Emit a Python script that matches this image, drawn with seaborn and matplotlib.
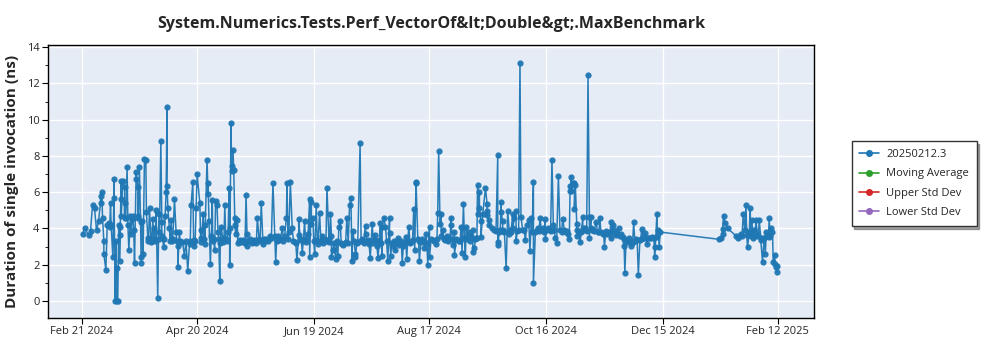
import numpy as np
import pandas as pd
import matplotlib
matplotlib.use("Agg")
import matplotlib.pyplot as plt
from matplotlib.lines import Line2D
import seaborn as sns

# ---------------- data ----------------
start_date = "2024-02-21"

# runs with notable values (spikes/dips), day offsets from start_date
day_offset = [
    0.34, 1.37, 3.42, 4.44, 5.46, 6.49, 7.51, 8.54, 9.56, 9.56, 10.25, 10.59, 11.27, 11.27, 12.3,
    13.0, 13.7, 14.3, 14.7, 15.0, 15.9, 16.4, 16.4, 17.1, 17.4, 17.8, 17.8, 18.4, 19.3, 19.3, 19.3,
    20.2, 20.2, 20.2, 21.0, 21.9, 21.9, 21.9, 23.2, 23.6, 24.1, 24.9, 25.3, 26.1, 27.0, 27.8, 27.8,
    28.7, 28.7, 29.5, 30.1, 30.4, 30.4, 31.4, 32.1, 32.8, 33.1, 33.8, 33.8, 34.7, 35.5, 36.4, 37.2,
    38.1, 38.9, 39.8, 39.8, 40.5, 41.0, 41.0, 42.0, 42.7, 43.2, 43.7, 43.7, 44.1, 44.9, 45.8, 46.6,
    47.5, 48.3, 49.2, 49.2, 50.0, 50.9, 52.6, 54.3, 55.2, 56.0, 56.9, 57.7, 58.6, 59.1,
    60.5, 61.3, 61.3, 62.2, 63.0, 63.0, 64.2, 64.7, 64.7, 65.2, 65.9, 66.9, 67.6, 68.1, 68.6, 69.3,
    69.8, 70.7, 71.5, 72.4, 73.3, 73.8, 75.0, 75.5, 75.8, 75.8, 76.5, 76.8, 76.8, 77.5, 77.9, 78.4,
    78.4, 78.9, 79.6, 80.6, 81.6, 82.7, 83.7, 84.2, 84.7, 84.7, 86.1, 86.9, 87.8, 89.0, 90.0, 90.9,
    92.0, 92.9, 93.7, 94.6, 96.3, 97.2, 98.0, 98.9, 99.4, 100.6, 101.8, 102.8, 104.0, 104.9, 105.2,
    106.2, 106.9, 107.9, 109.1, 110.3, 111.2, 111.2, 112.0, 113.0, 114.2, 115.1, 116.0, 116.8, 116.8,
    117.7, 117.7, 118.5, 119.4, 120.2, 121.1, 121.9,
    123.3, 124.3, 125.7, 126.7, 127.5, 128.0, 128.0, 128.7, 130.1, 131.3, 131.8, 132.5, 133.5, 134.7,
    135.9, 137.3, 138.0, 138.5, 139.0, 140.3, 140.3, 141.5, 142.7, 143.8, 145.5, 145.5, 146.7, 147.9,
    148.9, 150.1, 151.3, 151.9, 153.0, 154.0, 154.0, 154.9, 155.7, 156.9, 157.8, 157.8, 158.4, 159.5,
    160.8, 162.0, 163.2, 164.3, 164.9, 166.0, 166.6, 167.7, 168.9, 170.2, 170.7, 171.4, 171.4, 172.3,
    173.1, 174.5, 175.7, 176.5, 177.4, 178.3, 178.3, 180.0, 181.7, 182.5, 183.0, 183.7,
    184.3, 184.3, 185.1, 186.0, 187.2, 188.2, 189.4, 189.4, 190.2, 191.1, 191.1, 192.8, 193.6, 194.5,
    195.0, 195.7, 196.7, 197.1, 198.4, 199.6, 200.5, 200.5, 201.3, 202.2, 203.0, 203.0, 203.9, 203.9,
    204.7, 204.7, 205.6, 207.0, 207.8, 207.8, 207.8, 208.7, 208.7, 211.6, 212.4, 213.3, 213.3, 213.3,
    214.1, 215.0, 215.0, 215.8, 215.8, 216.7, 217.6, 218.4, 219.3, 220.1, 221.0, 221.0, 221.8, 222.7,
    222.7, 224.0, 224.7, 225.2, 226.1, 227.5, 228.1, 229.2, 229.8, 230.5, 231.6, 231.6, 232.6, 233.8,
    235.0, 236.3, 237.7, 237.7, 238.9, 239.8, 241.1, 241.8, 242.8, 243.5, 244.4, 245.2,
    246.6, 247.5, 248.3, 249.2, 250.0, 250.4, 250.4, 251.0, 251.0, 251.7, 252.6, 252.6, 253.1, 253.8,
    253.8, 254.8, 255.5, 256.9, 256.9, 258.2, 259.6, 260.3, 260.3, 261.1, 261.1, 262.0, 263.7, 264.5,
    265.7, 266.2, 267.1, 268.0, 268.8, 270.2, 271.4, 271.4, 272.2, 273.1, 273.9, 275.3, 276.5, 277.3,
    277.9, 278.5, 279.1, 279.9, 280.8, 281.6, 282.5, 283.0, 284.2, 285.4, 286.2, 287.1, 287.9, 289.0,
    289.8, 291.0, 292.4, 293.2, 293.7, 293.7, 294.4, 294.9, 295.6, 296.1, 296.6,
    326.9, 327.7, 328.6, 328.6, 329.1, 330.0, 331.2, 335.4, 336.3, 337.1, 338.0, 339.2, 340.0, 340.6,
    341.4, 342.3, 342.8, 343.6, 344.3, 344.8, 345.7, 346.5, 347.4, 348.2, 348.2, 349.1, 349.9, 350.5,
    351.1, 352.2, 352.5, 353.4, 354.2, 354.6, 355.4, 355.4, 355.9, 356.3, 356.4,
]

duration_ns = [
    3.7, 4.0, 3.65, 3.85, 5.3, 5.1, 3.9, 4.4, 5.4, 5.8, 6.0, 4.6, 3.3, 2.6, 1.7,
    4.2, 4.3, 4.1, 5.4, 4.2, 2.4, 5.7, 6.7, 0.0, 3.3, 0.0, 1.8, 0.0, 3.65, 4.1, 2.2,
    6.6, 5.6, 4.7, 6.6, 6.3, 4.6, 5.4, 7.4, 4.2, 2.8, 4.7, 3.7, 4.7, 2.1, 6.75, 7.1,
    6.3, 4.7, 7.4, 4.35, 2.4, 2.1, 2.6, 7.85, 7.8, 4.9, 3.5, 3.3, 5.1, 3.25, 4.5, 4.0,
    5.0, 0.15, 4.8, 3.8, 8.8, 4.35, 3.6, 3.0, 4.7, 6.0, 10.7, 6.35, 5.1, 4.0, 4.45, 3.4,
    5.6, 3.8, 3.05, 1.85, 3.8, 3.25, 2.5, 1.65, 3.15, 5.3, 6.55, 3.05, 5.1, 7.0,
    5.4, 3.9, 3.25, 4.8, 4.2, 3.15, 7.8, 5.9, 6.5, 4.4, 2.05, 5.55, 3.4, 2.8, 5.5, 5.3,
    3.8, 1.1, 4.1, 3.25, 5.3, 3.4, 3.8, 6.25, 4.0, 2.0, 9.8, 7.45, 7.15, 8.3, 7.2, 4.6,
    4.2, 3.7, 4.45, 3.3, 3.25, 3.35, 3.2, 5.85, 3.7, 3.05, 3.4, 3.3, 3.25, 3.3, 4.6, 3.4,
    5.4, 3.15, 3.3, 3.4, 3.6, 3.5, 6.5, 3.6, 2.15, 3.6, 3.4, 4.0, 3.6, 4.6, 6.5,
    3.8, 6.55, 4.0, 3.25, 2.25, 3.65, 4.5, 3.4, 2.65, 4.4, 3.25, 3.7, 5.6, 2.4,
    5.45, 4.25, 4.6, 2.6, 5.3, 3.15, 4.85,
    3.6, 3.4, 6.25, 3.4, 4.8, 3.6, 2.4, 2.8, 2.3, 2.5, 4.1, 4.4, 3.15, 3.2,
    4.6, 5.3, 5.7, 2.2, 3.85, 2.6, 2.4, 3.25, 8.7, 3.4, 4.15, 3.7, 3.35, 2.35,
    4.25, 3.65, 3.05, 2.35, 4.3, 2.5, 4.1, 4.6, 4.1, 2.2, 4.55, 3.75, 2.5, 3.05,
    2.8, 3.45, 3.25, 2.1, 3.05, 3.55, 2.3, 4.1, 3.25, 5.05, 2.8, 6.55, 6.5, 3.4,
    2.2, 3.4, 2.9, 3.7, 2.0, 4.1, 2.4, 3.35, 3.15, 4.85, 8.25, 4.25,
    4.8, 3.6, 3.9, 3.35, 3.6, 3.4, 4.6, 4.2, 3.1, 3.8, 2.55, 3.35, 3.3, 4.1,
    2.65, 5.35, 2.45, 4.1, 3.8, 3.6, 3.9, 2.7, 2.9, 3.45, 6.4, 4.8, 6.0, 5.1,
    4.4, 3.55, 4.8, 6.25, 5.35, 4.95, 4.75, 4.45, 4.2, 3.9, 3.85, 8.05, 3.25, 3.1,
    3.8, 5.45, 4.9, 4.4, 3.9, 3.8, 1.8, 4.95, 3.7, 3.8, 4.8, 4.0, 4.55, 4.95,
    3.3, 3.9, 13.15, 4.65, 3.9, 3.35, 4.2, 4.45, 2.75, 4.55, 6.55, 1.0, 3.8, 4.0,
    4.55, 4.0, 4.5, 3.4, 4.0, 3.9, 7.8, 4.2, 3.5, 3.2, 6.9, 3.9,
    4.5, 3.9, 3.8, 3.7, 3.4, 6.35, 6.05, 6.85, 6.05, 6.5, 6.5, 5.05, 6.4, 4.25,
    3.6, 3.8, 3.25, 4.65, 4.0, 4.0, 12.45, 4.65, 3.5, 4.65, 4.0, 3.9, 4.35, 3.8,
    4.55, 3.8, 3.7, 3.0, 3.85, 3.75, 4.35, 3.45, 4.2, 3.9, 3.65, 4.0, 3.7, 3.55,
    3.05, 1.55, 3.35, 3.25, 3.45, 3.05, 3.25, 4.35, 3.4, 1.45, 3.35, 3.95, 3.45, 3.75,
    3.15, 3.45, 3.55, 3.5, 2.95, 2.4, 3.55, 4.8, 3.9, 2.95, 3.8,
    3.4, 3.5, 3.7, 3.95, 4.7, 4.3, 4.0, 3.6, 3.5, 3.6, 3.7, 4.8, 3.9, 5.3,
    2.95, 3.8, 5.1, 4.45, 3.5, 3.9, 4.45, 3.7, 4.45, 3.5, 3.35, 2.15, 3.45, 2.6,
    3.8, 3.55, 4.55, 4.05, 3.8, 2.15, 2.55, 2.05, 1.85, 1.95, 1.6,
]

# the dense band of ordinary runs between the spikes
band_day_offset = [
    13.3, 14.0, 18.9, 22.5, 25.7, 26.6, 29.0, 31.0, 34.2, 35.9, 36.8, 37.6, 39.3, 42.3, 45.3,
    46.1, 48.7, 50.4, 51.6, 53.4, 55.6, 57.3, 58.1,
    60.9, 62.6, 66.4, 67.1, 70.2, 71.0, 72.9, 74.4, 80.1, 81.1, 82.2, 83.2, 85.4, 87.3, 88.4,
    89.5, 91.4, 93.3, 95.4, 96.8, 99.9, 101.2, 103.4, 105.7, 108.5, 109.7, 112.6, 113.6, 114.7,
    118.9, 120.7, 122.6,
    123.8, 125.2, 127.0, 129.4, 130.7, 133.0, 134.1, 135.3, 136.6, 139.6, 141.0, 143.2, 144.6,
    146.1, 147.3, 148.4, 149.5, 150.7, 152.5, 153.5, 156.3, 159.0, 160.1, 161.4, 162.6, 163.8,
    165.5, 167.1, 168.3, 169.6, 172.7, 173.8, 175.1, 176.9, 179.1, 180.8, 182.1,
    185.6, 186.6, 187.7, 188.8, 192.0, 194.0, 196.2, 197.7, 199.0, 201.8, 202.6,
    210.2, 214.6, 216.2, 219.8, 223.3, 226.8, 230.9, 233.2, 234.4, 235.7, 237.0, 238.3, 240.4,
    242.2, 246.0, 248.8, 254.2, 256.2, 257.6, 258.9, 261.6, 262.8, 265.1, 267.6, 269.5, 270.8,
    272.7, 274.6, 275.9, 278.0, 280.3, 282.0, 283.6, 284.8, 286.6, 288.4, 290.4, 291.7, 295.2,
    338.6, 341.0, 343.0, 345.2, 347.0, 350.0, 351.6, 353.0,
]
band_duration_ns = [
    4.2, 4.25, 4.2, 4.6, 4.5, 3.9, 4.6, 4.4, 3.4, 3.3, 3.4, 3.3, 3.4, 3.4, 3.3,
    3.3, 3.3, 3.3, 3.25, 3.3, 3.3, 3.35, 3.3,
    3.5, 3.4, 3.6, 3.3, 3.4, 3.2, 3.5, 3.3, 3.2, 3.35, 3.3, 3.25, 3.3, 3.2, 3.35,
    3.2, 3.3, 3.4, 3.3, 3.45, 3.3, 3.35, 3.3, 3.4, 3.3, 3.2, 3.35, 3.3, 3.4,
    3.3, 3.35, 3.3,
    3.2, 3.3, 3.25, 3.2, 3.3, 3.2, 3.1, 3.25, 3.2, 3.3, 3.2, 3.3, 3.2,
    3.3, 3.15, 3.3, 3.2, 3.35, 3.3, 3.2, 3.3, 3.2, 3.3, 3.2, 3.1, 3.3,
    3.2, 3.3, 3.2, 3.35, 3.3, 3.25, 3.3, 3.2, 3.4, 3.3, 3.4,
    3.4, 3.5, 3.3, 3.4, 3.4, 3.3, 3.5, 3.4, 3.3, 3.4, 3.5,
    4.0, 3.9, 3.85, 3.9, 3.85, 3.9, 3.8, 3.9, 3.85, 3.9, 3.8, 3.9, 3.85,
    3.9, 3.8, 3.85, 3.9, 3.8, 3.9, 3.85, 3.9, 3.85, 3.8, 3.75, 3.7, 3.8,
    3.75, 3.7, 3.6, 3.4, 3.3, 3.2, 3.3, 3.35, 3.4, 3.5, 3.45, 3.5, 3.6,
    3.6, 3.65, 3.6, 3.6, 3.6, 3.5, 3.6, 3.6,
]

legend_labels = ["20250212.3", "Moving Average", "Upper Std Dev", "Lower Std Dev"]
legend_colors = ["#1f77b4", "#2ca02c", "#d62728", "#9467bd"]
tick_dates = ["2024-02-21", "2024-04-20", "2024-06-19", "2024-08-17",
              "2024-10-16", "2024-12-15", "2025-02-12"]
tick_labels = ["Feb 21 2024", "Apr 20 2024", "Jun 19 2024", "Aug 17 2024",
               "Oct 16 2024", "Dec 15 2024", "Feb 12 2025"]
title = "System.Numerics.Tests.Perf_VectorOf&lt;Double&gt;.MaxBenchmark"
y_label = "Duration of single invocation (ns)"

# ---------------- figure ----------------
sns.set_theme(style="darkgrid")
plt.rcParams["font.family"] = ["Open Sans", "DejaVu Sans"]

df = pd.DataFrame({
    "day": list(day_offset) + list(band_day_offset),
    "value": list(duration_ns) + list(band_duration_ns),
})
df = df.sort_values("day", kind="mergesort").reset_index(drop=True)
df["date"] = pd.Timestamp(start_date) + pd.to_timedelta(df["day"], unit="D")

fig = plt.figure(figsize=(10, 3.5), dpi=100)
ax = fig.add_axes([0.048, 0.0914, 0.766, 0.7797])
ax.set_facecolor("#E5ECF6")

sns.lineplot(data=df, x="date", y="value", ax=ax, estimator=None, sort=False,
             color="#1f77b4", linewidth=1.1, marker="o", markersize=4.5,
             markeredgewidth=0, alpha=0.95, legend=False)

ax.set_xlim(pd.Timestamp("2024-02-03 15:00"), pd.Timestamp("2025-03-02 12:00"))
ax.set_ylim(-0.94, 14.11)
ax.set_yticks(np.arange(0, 15, 2))
ax.yaxis.set_minor_locator(matplotlib.ticker.MultipleLocator(1))
ax.set_xticks(pd.to_datetime(tick_dates))
ax.set_xticklabels(tick_labels)

ax.grid(True, which="major", color="white", linewidth=1.0)
ax.grid(False, which="minor")
for s in ax.spines.values():
    s.set_visible(True)
    s.set_color("black")
    s.set_linewidth(1.0)

ax.tick_params(axis="both", which="major", labelsize=8, length=4, width=0.8,
               color="black", direction="out", bottom=True, left=True, pad=2)
ax.tick_params(axis="y", which="minor", length=2, width=0.6, color="black", left=True)

ax.set_xlabel("")
ax.set_ylabel(y_label, fontsize=11, fontweight="bold", labelpad=6)
ax.set_title(title, fontsize=11.5, fontweight="bold", pad=12)

handles = [Line2D([0], [0], color=c, linewidth=1.2, marker="o", markersize=4)
           for c in legend_colors]
leg = fig.legend(handles, legend_labels, loc="upper left",
                 bbox_to_anchor=(0.846, 0.612), frameon=True, fancybox=False,
                 shadow=True, fontsize=8, edgecolor="#333333",
                 handlelength=1.8, handletextpad=0.6, labelspacing=0.75, borderpad=0.7)
leg.get_frame().set_facecolor("white")
leg.get_frame().set_linewidth(1.0)

fig.savefig("out.png", dpi=100, facecolor="white")
